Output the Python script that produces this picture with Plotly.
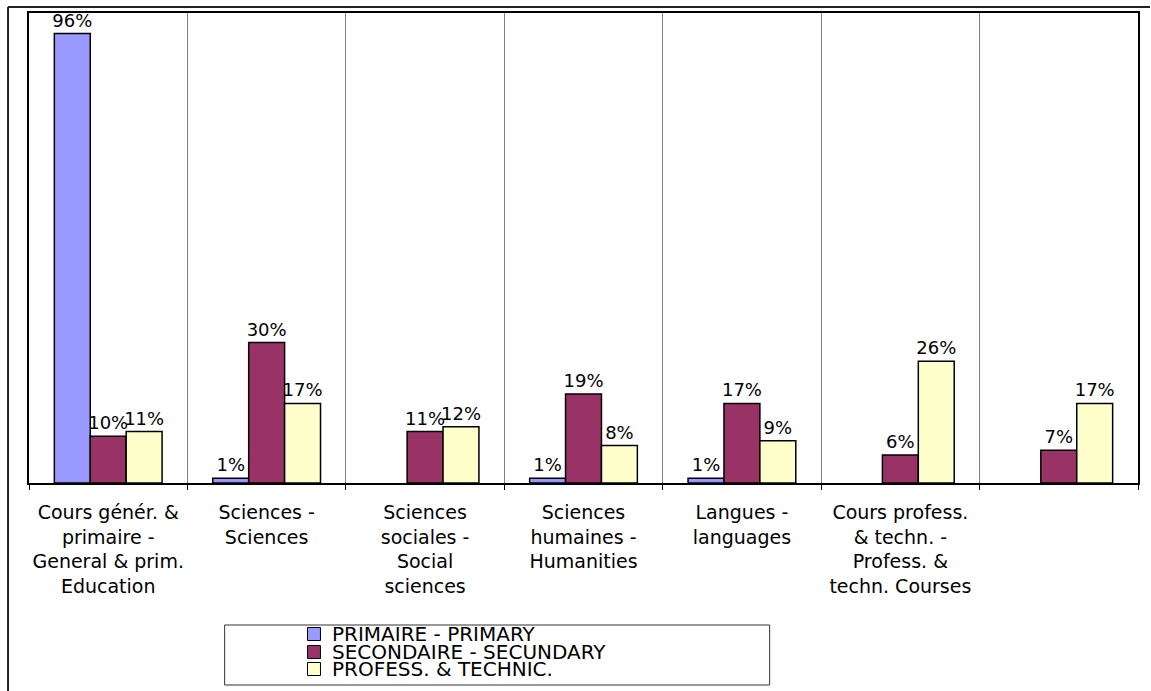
import plotly.graph_objects as go

# ---- data ----
categories = [
    "Cours génér. &<br>primaire -<br>General & prim.<br>Education",
    "Sciences -<br>Sciences",
    "Sciences<br>sociales -<br>Social<br>sciences",
    "Sciences<br>humaines -<br>Humanities",
    "Langues -<br>languages",
    "Cours profess.<br>& techn. -<br>Profess. &<br>techn. Courses",
    " ",
]
series_names = ["PRIMAIRE - PRIMARY", "SECONDAIRE - SECUNDARY", "PROFESS. & TECHNIC."]
primary = [96, 1, None, 1, 1, None, None]
secondary = [10, 30, 11, 19, 17, 6, 7]
profess = [11, 17, 12, 8, 9, 26, 17]
series_values = [primary, secondary, profess]
colors = ["#9999FF", "#993366", "#FFFFCC"]

W, H = 1151, 691
L, R, T, B = 29, 1140, 13, 483  # plot area in px


def px_x(px):
    return (px - L) / (R - L)


def px_y(py):
    return (B - py) / (B - T)


FONT = "DejaVu Sans"

fig = go.Figure()
for name, vals, col in zip(series_names, series_values, colors):
    fig.add_trace(go.Bar(
        x=categories, y=vals, name=name,
        marker=dict(color=col, line=dict(color="black", width=1.5)),
        texttemplate="%{y}%", textposition="outside", constraintext="none",
        textfont=dict(family=FONT, size=18, color="black"),
        cliponaxis=False, showlegend=False,
    ))

shapes = [
    # outer chart frame (top and left visible)
    dict(type="line", xref="paper", yref="paper", x0=px_x(8), x1=px_x(1152), y0=px_y(7), y1=px_y(7),
         line=dict(color="#222222", width=2)),
    dict(type="line", xref="paper", yref="paper", x0=px_x(8), x1=px_x(8), y0=px_y(7), y1=px_y(692),
         line=dict(color="#222222", width=2)),
    # legend box
    dict(type="rect", xref="paper", yref="paper", x0=px_x(225), x1=px_x(771), y0=px_y(625), y1=px_y(685),
         line=dict(color="#333333", width=1), fillcolor="white"),
]
annotations = []
leg_y = [634, 652, 669]
for i, (name, col) in enumerate(zip(series_names, colors)):
    yc = leg_y[i]
    shapes.append(dict(type="rect", xref="paper", yref="paper",
                       x0=px_x(308), x1=px_x(321), y0=px_y(yc - 6.5), y1=px_y(yc + 6.5),
                       line=dict(color="black", width=1), fillcolor=col))
    annotations.append(dict(text=name, xref="paper", yref="paper", x=px_x(331), y=px_y(yc),
                            xanchor="left", yanchor="middle", showarrow=False,
                            font=dict(family=FONT, size=20, color="black")))

fig.update_layout(
    width=W, height=H,
    margin=dict(l=L, r=W - R, t=T, b=H - B, pad=0),
    paper_bgcolor="white", plot_bgcolor="white",
    barmode="group", bargap=0.32, bargroupgap=0,
    xaxis=dict(type="category", tickson="boundaries", showgrid=True, gridcolor="#808080", gridwidth=1,
               ticks="outside", ticklen=5, tickcolor="black", tickangle=0, ticklabelstandoff=11,
               showline=True, linecolor="black", linewidth=2, mirror=True, automargin=False,
               tickfont=dict(family=FONT, size=19, color="black")),
    yaxis=dict(range=[0, 100.4], showgrid=False, showticklabels=False, zeroline=False,
               showline=True, linecolor="black", linewidth=2, mirror=True),
    shapes=shapes, annotations=annotations,
)

fig.write_html("out.html", config={"displayModeBar": False},
               post_script="document.body.style.margin='0';")
